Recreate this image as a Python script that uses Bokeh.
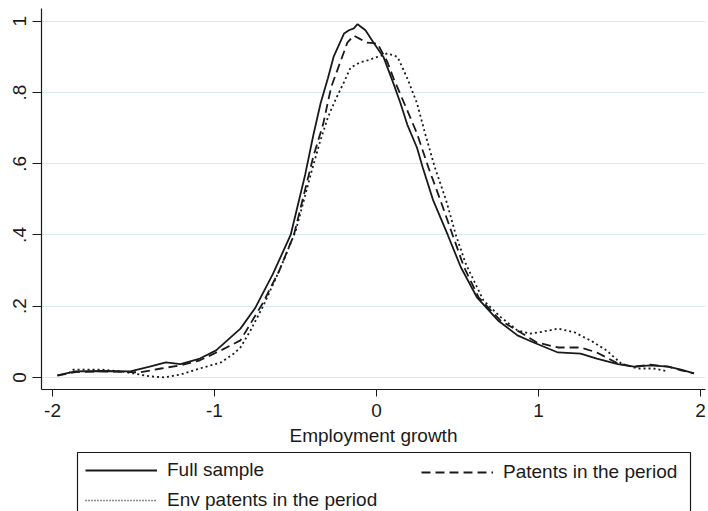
from bokeh.plotting import figure
from bokeh.models import Legend, LegendItem, FixedTicker, Range1d
from bokeh.layouts import column
from bokeh.embed import file_html
from bokeh.resources import INLINE

# ---- data ----
full_x = [-1.97, -1.86, -1.70, -1.52, -1.40, -1.30, -1.21, -1.09, -0.99, -0.84, -0.75, -0.64, -0.53,
          -0.44, -0.39, -0.345, -0.30, -0.265, -0.20, -0.17, -0.14, -0.117, -0.068, -0.018, 0.043,
          0.105, 0.148, 0.19, 0.25, 0.285, 0.35, 0.44, 0.52, 0.62, 0.75, 0.87, 0.97, 1.12, 1.26,
          1.36, 1.49, 1.59, 1.69, 1.80, 1.88, 1.96]
full_y = [0.006, 0.017, 0.018, 0.017, 0.030, 0.042, 0.037, 0.053, 0.076, 0.137, 0.194, 0.29, 0.40,
          0.57, 0.68, 0.77, 0.84, 0.90, 0.966, 0.975, 0.98, 0.992, 0.975, 0.94, 0.90,
          0.825, 0.77, 0.71, 0.645, 0.59, 0.497, 0.40, 0.31, 0.225, 0.16, 0.118, 0.098, 0.07, 0.067,
          0.053, 0.037, 0.03, 0.034, 0.03, 0.022, 0.011]

pat_x = [-1.97, -1.86, -1.70, -1.52, -1.46, -1.33, -1.21, -1.09, -0.96, -0.84, -0.70, -0.60, -0.51,
         -0.39, -0.33, -0.28, -0.22, -0.18, -0.14, -0.10, -0.056, 0.006, 0.068, 0.105, 0.19, 0.25,
         0.32, 0.395, 0.47, 0.54, 0.63, 0.765, 0.89, 0.99, 1.12, 1.26, 1.36, 1.49, 1.59, 1.69,
         1.80, 1.88, 1.96]
pat_y = [0.005, 0.015, 0.017, 0.015, 0.014, 0.025, 0.034, 0.048, 0.076, 0.104, 0.21, 0.30, 0.40,
         0.62, 0.71, 0.815, 0.89, 0.94, 0.96, 0.95, 0.94, 0.938, 0.885, 0.84, 0.75, 0.685,
         0.59, 0.497, 0.40, 0.31, 0.225, 0.16, 0.126, 0.098, 0.084, 0.084, 0.07, 0.039, 0.03, 0.036,
         0.03, 0.02, 0.011]

env_x = [-1.90, -1.87, -1.70, -1.58, -1.50, -1.40, -1.31, -1.21, -1.09, -0.96, -0.88, -0.84, -0.78,
         -0.70, -0.60, -0.50, -0.40, -0.35, -0.30, -0.253, -0.20, -0.16, -0.10, -0.056, 0.006,
         0.068, 0.13, 0.19, 0.25, 0.30, 0.36, 0.43, 0.49, 0.55, 0.66, 0.765, 0.87, 0.95, 1.01,
         1.12, 1.22, 1.32, 1.42, 1.51, 1.61, 1.71, 1.80]
env_y = [0.012, 0.022, 0.022, 0.017, 0.011, 0.003, 0.0, 0.008, 0.025, 0.042, 0.067, 0.084, 0.13,
         0.20, 0.30, 0.41, 0.58, 0.66, 0.73, 0.78, 0.83, 0.87, 0.885, 0.89, 0.90,
         0.91, 0.90, 0.84, 0.77, 0.685, 0.59, 0.497, 0.40, 0.32, 0.216, 0.17, 0.132, 0.123, 0.127,
         0.137, 0.127, 0.104, 0.076, 0.039, 0.025, 0.025, 0.017]

x_ticks = [-2, -1, 0, 1, 2]
x_tick_labels = {-2: "-2", -1: "-1", 0: "0", 1: "1", 2: "2"}
y_ticks = [0, 0.2, 0.4, 0.6, 0.8, 1.0]
y_tick_labels = {0: "0", 0.2: ".2", 0.4: ".4", 0.6: ".6", 0.8: ".8", 1.0: "1"}
series_labels = ["Full sample", "Patents in the period", "Env patents in the period"]

FONT = "Liberation Sans"
FS = "19px"
INK = "#1a1a1a"
DASH, DOT = "9 5", "2 3"

# ---------------- main plot ----------------
p = figure(width=708, height=450, output_backend="svg", toolbar_location=None,
           x_range=Range1d(-2.068, 2.031), y_range=Range1d(-0.034, 1.036),
           min_border_left=41, min_border_right=3, min_border_top=8, min_border_bottom=61)
p.outline_line_color = None
p.background_fill_color = "white"
p.border_fill_color = "white"

p.line(full_x, full_y, line_color=INK, line_width=1.8)
p.line(pat_x, pat_y, line_color=INK, line_width=1.8, line_dash=DASH)
p.line(env_x, env_y, line_color=INK, line_width=1.8, line_dash=DOT)

p.xaxis.ticker = FixedTicker(ticks=x_ticks)
p.xaxis.major_label_overrides = x_tick_labels
p.yaxis.ticker = FixedTicker(ticks=y_ticks)
p.yaxis.major_label_overrides = y_tick_labels
p.yaxis.major_label_orientation = "vertical"
for ax in (p.xaxis[0], p.yaxis[0]):
    ax.axis_line_color = INK
    ax.axis_line_width = 1.2
    ax.major_tick_line_color = INK
    ax.minor_tick_line_color = None
    ax.major_tick_in = 0
    ax.major_label_text_font = FONT
    ax.major_label_text_font_size = FS
    ax.major_label_text_color = INK
p.xaxis.major_tick_out = 7
p.yaxis.major_tick_out = 9
p.xaxis.major_label_standoff = 7
p.yaxis.major_label_standoff = 6
p.xaxis.axis_label = "Employment growth"
p.xaxis.axis_label_text_font = FONT
p.xaxis.axis_label_text_font_size = FS
p.xaxis.axis_label_text_font_style = "normal"
p.xaxis.axis_label_text_color = INK
p.xaxis.axis_label_standoff = 5

p.xgrid.grid_line_color = None
p.ygrid.grid_line_color = "#d8ecef"
p.ygrid.grid_line_width = 1.2

# ---------------- legend panel ----------------
# the column layout aligns this panel's frame with the plot frame (page x 41..705)
LH = 61
FL, FR = 41, 705
q = figure(width=708, height=LH, output_backend="svg", toolbar_location=None,
           x_range=Range1d(FL, FR), y_range=Range1d(LH, 0),
           x_axis_type=None, y_axis_type=None,
           min_border_left=41, min_border_right=3, min_border_top=0, min_border_bottom=0)
q.outline_line_color = None
q.xgrid.grid_line_color = None
q.ygrid.grid_line_color = None
q.border_fill_color = "white"
q.background_fill_color = "white"

# legend frame
q.quad(left=[77], right=[690], top=[2], bottom=[LH + 20], fill_color=None,
       line_color=INK, line_width=1.2)

# off-screen proxies that give the legend its line samples
g1 = q.line([-100, -90], [-100, -100], line_color=INK, line_width=1.8)
g2 = q.line([-100, -90], [-100, -100], line_color=INK, line_width=1.8, line_dash=DASH)
g3 = q.line([-100, -90], [-100, -100], line_color=INK, line_width=1.4, line_dash="1 2")


def style(lg):
    lg.label_text_font = FONT
    lg.label_text_font_size = FS
    lg.label_text_color = INK
    lg.glyph_width = 72
    lg.glyph_height = 20
    lg.label_height = 20
    lg.label_standoff = 10
    lg.padding = 0
    lg.spacing = 8
    lg.margin = 0
    lg.border_line_color = None
    lg.background_fill_alpha = 0


legA = Legend(items=[LegendItem(label=series_labels[0], renderers=[g1]),
                     LegendItem(label=series_labels[2], renderers=[g3])],
              orientation="vertical", location=(85 - FL, 0))
legB = Legend(items=[LegendItem(label=series_labels[1], renderers=[g2])],
              orientation="vertical", location=(421 - FL, 28))
style(legA)
style(legB)
q.add_layout(legA, "center")
q.add_layout(legB, "center")

open("out.html", "w").write(file_html(column(p, q, spacing=0), INLINE))
